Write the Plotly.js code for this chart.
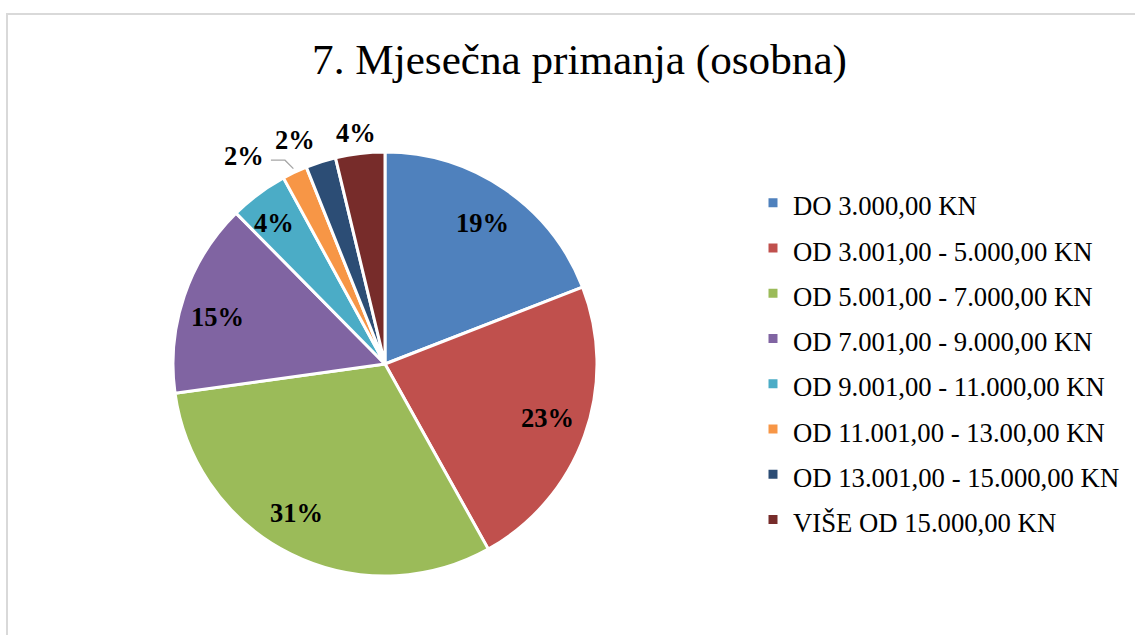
<!DOCTYPE html>
<html>
<head>
<meta charset="utf-8">
<script src="https://cdn.plot.ly/plotly-3.0.1.min.js"></script>
<style>
  html, body { margin: 0; padding: 0; background: #fff; }
  #chart { width: 1135px; height: 635px; position: absolute; left: 0; top: 0; }
  #frame { position: absolute; left: 6px; top: 13px; width: 1140px; height: 640px;
           border-top: 2px solid #d9d9d9; border-left: 2px solid #d9d9d9; pointer-events: none; }
</style>
</head>
<body>
<div id="chart"></div>
<div id="frame"></div>
<script>
// ---- data ----
const categories = [
  "DO 3.000,00 KN",
  "OD 3.001,00 - 5.000,00 KN",
  "OD 5.001,00 - 7.000,00 KN",
  "OD 7.001,00 - 9.000,00 KN",
  "OD 9.001,00 - 11.000,00 KN",
  "OD 11.001,00 - 13.00,00 KN",
  "OD 13.001,00 - 15.000,00 KN",
  "VIŠE OD 15.000,00 KN"
];
const shares = [19.1, 22.8, 30.9, 14.8, 4.45, 1.9, 2.3, 3.75];
const titleText = "7. Mjesečna primanja (osobna)";

// ---- styles / label placement ----
const colors = ["#4F81BD", "#C0504D", "#9BBB59", "#8064A2", "#4BACC6", "#F79646", "#2C4D75", "#772C2A"];
const labelRadius = [0.805, 0.81, 0.83, 0.82, 0.845, 1.184, 1.136, 1.097];   // fraction of pie radius
const labelAngleShift = [0.5, -0.6, 3.6, -3.6, -1.8, -9.0, -4.2, -0.4];     // degrees
const leaderLine = [false, false, false, false, false, true, false, false];
const SERIF = "Liberation Serif, Times New Roman, serif";

const W = 1135, H = 635;
const cx = 385, cy = 364, r = 212;
const domX = [(cx - r) / W, (cx + r) / W];
const domY = [(H - cy - r) / H, (H - cy + r) / H];
const AX = 1.3; // label axes extend beyond the pie radius
const axDomX = [(cx - AX * r) / W, (cx + AX * r) / W];
const axDomY = [(H - cy - AX * r) / H, (H - cy + AX * r) / H];

const total = shares.reduce((a, b) => a + b, 0);
let cum = 0;
const mids = shares.map(v => { const m = cum + v / 2; cum += v; return m / total * 360; });
const polar = (deg, rho) => {
  const t = deg * Math.PI / 180;
  return [rho * Math.sin(t), rho * Math.cos(t)];
};

const legendLabels = categories.map(c => '<span style="font-size:26.7px">' + c + '</span>');

const pie = {
  type: "pie",
  labels: legendLabels,
  values: shares,
  sort: false,
  direction: "clockwise",
  rotation: 0,
  marker: { colors: colors, line: { color: "#ffffff", width: 3 } },
  textinfo: "none",
  automargin: false,
  hoverinfo: "label+percent",
  domain: { x: domX, y: domY }
};

const annotations = [];
const leaderTraces = [];
shares.forEach((v, i) => {
  const pct = Math.round(v / total * 100) + "%";
  const [lx, ly] = polar(mids[i] + labelAngleShift[i], labelRadius[i]);
  annotations.push({
    x: lx, y: ly, xref: "x", yref: "y",
    text: "<b>" + pct + "</b>",
    showarrow: false,
    xanchor: "center", yanchor: "middle",
    font: { family: SERIF, size: 26.5, color: "#000000" }
  });
  if (leaderLine[i]) {
    const [ex, ey] = polar(mids[i], 1.015);
    const sx = lx + 27 / r, sy = ly - 4.4 / r;
    const kx = ex - 8.4 / r;
    leaderTraces.push({
      type: "scatter", mode: "lines",
      x: [sx, kx, ex], y: [sy, sy, ey],
      xaxis: "x", yaxis: "y",
      line: { color: "#a6a6a6", width: 1.3 },
      showlegend: false, hoverinfo: "skip", cliponaxis: false
    });
  }
});

const layout = {
  width: W, height: H,
  margin: { l: 0, r: 0, t: 0, b: 0 },
  paper_bgcolor: "#ffffff",
  plot_bgcolor: "rgba(0,0,0,0)",
  font: { family: SERIF, color: "#000000" },
  title: {
    text: titleText,
    font: { family: SERIF, size: 43.2, color: "#000000" },
    x: 579.5 / W, xanchor: "center", xref: "paper",
    y: 1 - 43.3 / H, yanchor: "top", yref: "container"
  },
  xaxis: { domain: axDomX, range: [-AX, AX], visible: false, fixedrange: true },
  yaxis: { domain: axDomY, range: [-AX, AX], visible: false, fixedrange: true },
  showlegend: true,
  legend: {
    x: 753 / W, xanchor: "left",
    y: 1 - 361 / H, yanchor: "middle",
    font: { family: SERIF, size: 32.5, color: "#000000" },
    bgcolor: "rgba(0,0,0,0)",
    traceorder: "normal"
  },
  annotations: annotations
};

Plotly.newPlot("chart", [pie].concat(leaderTraces), layout, { displayModeBar: false, staticPlot: true });
</script>
</body>
</html>
